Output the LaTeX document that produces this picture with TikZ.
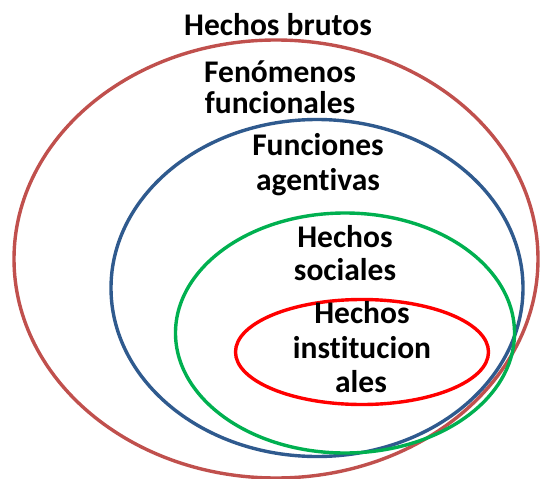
\documentclass[tikz,border=0pt]{standalone}
\usepackage{fontspec}
\setmainfont[RawFeature={-liga;-clig;-dlig}]{Carlito}
\usetikzlibrary{shapes.geometric}
\definecolor{cbrown}{HTML}{C0504D}
\definecolor{cblue}{HTML}{2F5A8E}
\definecolor{cgreen}{HTML}{00B050}
\definecolor{cred}{HTML}{FF0000}
\tikzset{
  ring/.style={draw, ellipse, line width=3.4pt, inner sep=0pt},
  lbl/.style={anchor=base, inner sep=0pt, font=\fontsize{31.5}{34}\selectfont\bfseries, text=black}
}
\begin{document}
\begin{tikzpicture}[x=1pt,y=-1pt]
\useasboundingbox (0,0) rectangle (544,479);
\node[ring, cbrown, minimum width=524pt, minimum height=438pt] (brutos) at (276,259) {};
\node[ring, cblue, minimum width=412pt, minimum height=337pt] (funcag) at (317,288) {};
\node[ring, cgreen, minimum width=339pt, minimum height=240pt] (soc) at (345,333) {};
\node[ring, cred, minimum width=253pt, minimum height=105pt] (inst) at (362,352) {};
\node[lbl] (t1) at (278,35) {Hechos brutos};
\node[lbl] (t2a) at (280,82) {Fenómenos};
\node[lbl] (t2b) at (280,113) {funcionales};
\node[lbl] (t3a) at (318,155) {Funciones};
\node[lbl] (t3b) at (318,190) {agentivas};
\node[lbl] (t4a) at (345,247) {Hechos};
\node[lbl] (t4b) at (345,280) {sociales};
\node[lbl] (t5a) at (362,323) {Hechos};
\node[lbl] (t5b) at (362,358) {institucion};
\node[lbl] (t5c) at (361,392) {ales};
\end{tikzpicture}
\end{document}
